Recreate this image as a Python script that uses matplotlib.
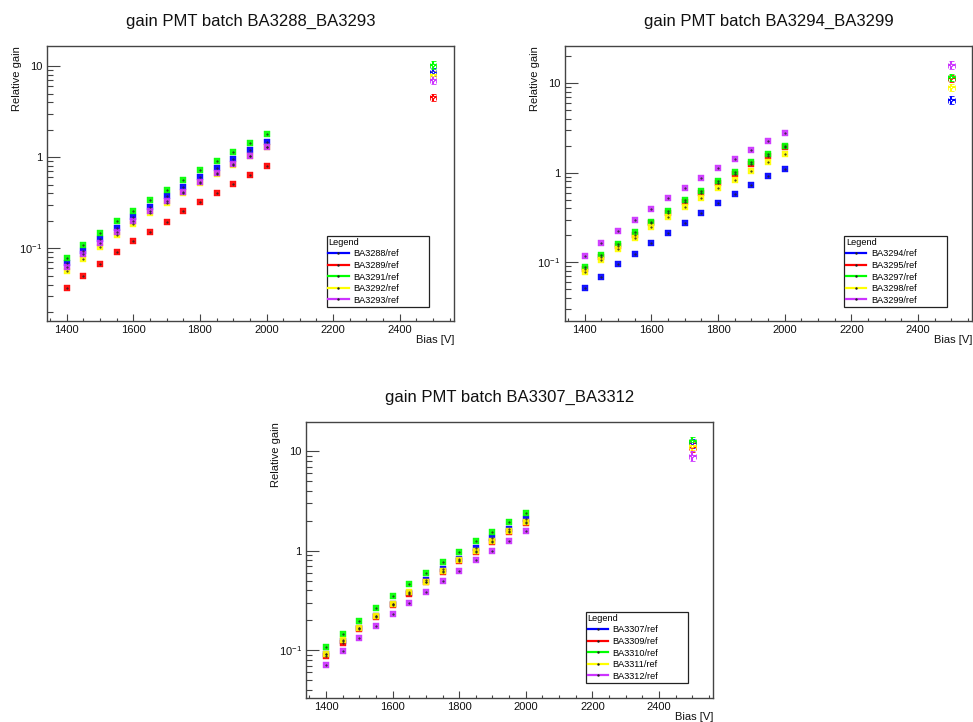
import matplotlib
matplotlib.use("Agg")
import matplotlib.pyplot as plt
from matplotlib.lines import Line2D
from matplotlib.ticker import LogLocator, FixedLocator, NullFormatter, FuncFormatter

plt.rcParams['font.family'] = ['Liberation Sans', 'DejaVu Sans']
plt.rcParams['mathtext.fontset'] = 'custom'
plt.rcParams['mathtext.rm'] = 'Liberation Sans'
plt.rcParams['mathtext.it'] = 'Liberation Sans:italic'
plt.rcParams['mathtext.bf'] = 'Liberation Sans:bold'
plt.rcParams['mathtext.sf'] = 'Liberation Sans'

# ---------------- data ----------------
bias = [1400, 1450, 1500, 1550, 1600, 1650, 1700, 1750, 1800, 1850, 1900, 1950, 2000, 2500]
bias_err = [0, 0, 0, 0, 0, 0, 0, 0, 0, 0, 0, 0, 0, 10]

colors = ['#0000ff', '#ff0000', '#00ff00', '#ffff00', '#cc33ff']

# Panel 1: batch BA3288_BA3293
titles1 = "gain PMT batch BA3288_BA3293"
labels1 = ["BA3288/ref", "BA3289/ref", "BA3291/ref", "BA3292/ref", "BA3293/ref"]
ba3288 = [0.0684, 0.0935, 0.1256, 0.167, 0.223, 0.2845, 0.373, 0.472, 0.603, 0.764, 0.959, 1.194, 1.486, 8.66]
ba3289 = [0.0367, 0.050, 0.0673, 0.0904, 0.1194, 0.1525, 0.1963, 0.255, 0.323, 0.409, 0.514, 0.634, 0.796, 4.56]
ba3291 = [0.079, 0.108, 0.1474, 0.198, 0.259, 0.337, 0.441, 0.564, 0.726, 0.911, 1.154, 1.425, 1.79, 10.43]
ba3292 = [0.0559, 0.0763, 0.1034, 0.139, 0.1867, 0.2425, 0.315, 0.402, 0.518, 0.656, 0.83, 1.03, 1.28, 8.1]
ba3293 = [0.063, 0.0867, 0.1135, 0.1525, 0.1996, 0.255, 0.3285, 0.420, 0.536, 0.673, 0.838, 1.043, 1.288, 7.14]
err1 = [0.9, 0.45, 1.1, 0.85, 0.75]

# Panel 2: batch BA3294_BA3299
titles2 = "gain PMT batch BA3294_BA3299"
labels2 = ["BA3294/ref", "BA3295/ref", "BA3297/ref", "BA3298/ref", "BA3299/ref"]
ba3294 = [0.0513, 0.0686, 0.095, 0.124, 0.163, 0.2124, 0.277, 0.358, 0.455, 0.578, 0.729, 0.91, 1.108, 6.46]
ba3295 = [0.0843, 0.1147, 0.1534, 0.2036, 0.2746, 0.358, 0.467, 0.593, 0.767, 0.966, 1.239, 1.548, 1.916, 11.3]
ba3297 = [0.0879, 0.1208, 0.1615, 0.216, 0.284, 0.377, 0.491, 0.6245, 0.80, 1.026, 1.304, 1.615, 2.0, 11.57]
ba3298 = [0.078, 0.1052, 0.141, 0.1884, 0.2478, 0.3205, 0.414, 0.526, 0.669, 0.835, 1.05, 1.304, 1.601, 8.95]
ba3299 = [0.1187, 0.163, 0.222, 0.2965, 0.3935, 0.5175, 0.675, 0.865, 1.117, 1.42, 1.775, 2.235, 2.77, 15.9]
err2 = [0.65, 1.1, 1.15, 0.9, 1.6]

# Panel 3: batch BA3307_BA3312
titles3 = "gain PMT batch BA3307_BA3312"
labels3 = ["BA3307/ref", "BA3309/ref", "BA3310/ref", "BA3311/ref", "BA3312/ref"]
ba3307 = [0.092, 0.124, 0.167, 0.220, 0.290, 0.380, 0.511, 0.659, 0.831, 1.056, 1.33, 1.65, 2.065, 12.1]
ba3309 = [0.088, 0.119, 0.162, 0.2155, 0.2824, 0.370, 0.480, 0.610, 0.790, 0.977, 1.23, 1.54, 1.90, 11.0]
ba3310 = [0.1076, 0.1466, 0.198, 0.2654, 0.350, 0.4624, 0.5965, 0.769, 0.977, 1.24, 1.552, 1.94, 2.41, 12.75]
ba3311 = [0.0908, 0.1256, 0.1683, 0.222, 0.291, 0.381, 0.488, 0.625, 0.80, 1.0, 1.26, 1.564, 1.927, 11.27]
ba3312 = [0.0715, 0.098, 0.1325, 0.175, 0.231, 0.300, 0.3873, 0.4994, 0.63, 0.80, 1.0, 1.25, 1.57, 9.0]
err3 = [1.2, 1.1, 1.3, 1.1, 0.95]

panels = [
    dict(title=titles1, labels=labels1, series=[ba3288, ba3289, ba3291, ba3292, ba3293], err=err1,
         rect_px=(46.7, 45.7, 454.0, 321.0), ylim=(0.0159, 16.8),
         leg_px=(326.5, 236.0, 429.0, 304.5)),
    dict(title=titles2, labels=labels2, series=[ba3294, ba3295, ba3297, ba3298, ba3299], err=err2,
         rect_px=(564.7, 45.7, 972.3, 321.0), ylim=(0.0222, 26.0),
         leg_px=(844.3, 236.0, 946.5, 304.5)),
    dict(title=titles3, labels=labels3, series=[ba3307, ba3309, ba3310, ba3311, ba3312], err=err3,
         rect_px=(306.0, 421.7, 713.3, 697.7), ylim=(0.0334, 19.8),
         leg_px=(585.7, 612.0, 687.5, 681.5)),
]

W, H = 973, 722
fig = plt.figure(figsize=(W / 100, H / 100), dpi=100)
frame_col = '#444444'


def ytick_fmt(v, pos):
    if abs(v - 10) < 1e-6:
        return '10'
    if abs(v - 1) < 1e-6:
        return '1'
    if abs(v - 0.1) < 1e-9:
        return r'$10^{-1}$'
    return ''


for p in panels:
    x0, y0, x1, y1 = p['rect_px']
    ax = fig.add_axes([x0 / W, 1 - y1 / H, (x1 - x0) / W, (y1 - y0) / H])
    axw, axh = x1 - x0, y1 - y0
    ax.set_yscale('log')
    ax.set_xlim(1340, 2563)
    ax.set_ylim(*p['ylim'])

    n = len(bias) - 1
    for i, (vals, col) in enumerate(zip(p['series'], colors)):
        ax.plot(bias[:n], vals[:n], linestyle='none', marker='s', markersize=3.8,
                markerfacecolor=col, markeredgecolor=col, markeredgewidth=0.3,
                alpha=0.92, zorder=3)
        ax.plot(bias[:n], vals[:n], linestyle='none', marker='.', markersize=1.0,
                color='#222222', zorder=4)
        ax.errorbar([bias[n]], [vals[n]], xerr=[bias_err[n]], yerr=[p['err'][i]],
                    fmt='s', markersize=2.0, markerfacecolor='white', markeredgecolor=col,
                    markeredgewidth=0.6, ecolor=col, elinewidth=1.5, capsize=1.8,
                    capthick=1.2, zorder=3)

    # ticks
    ax.yaxis.set_major_locator(FixedLocator([0.1, 1, 10]))
    ax.yaxis.set_minor_locator(LogLocator(base=10, subs=[2, 3, 4, 5, 6, 7, 8, 9], numticks=20))
    ax.yaxis.set_major_formatter(FuncFormatter(ytick_fmt))
    ax.yaxis.set_minor_formatter(NullFormatter())
    ax.xaxis.set_major_locator(FixedLocator([1400, 1600, 1800, 2000, 2200, 2400]))
    ax.xaxis.set_minor_locator(FixedLocator(list(range(1350, 2551, 50))))
    ax.tick_params(axis='both', which='both', direction='in', color=frame_col,
                   labelsize=8, labelcolor='#111111')
    ax.tick_params(axis='y', which='major', length=9.5, width=0.8, pad=3, left=True, right=False)
    ax.tick_params(axis='y', which='minor', length=4.5, width=0.8, left=True, right=False)
    ax.tick_params(axis='x', which='major', length=5.0, width=0.8, pad=3, bottom=True, top=False)
    ax.tick_params(axis='x', which='minor', length=2.5, width=0.8, bottom=True, top=False)
    for s in ax.spines.values():
        s.set_color(frame_col)
        s.set_linewidth(1.0)

    # titles
    ax.text(0.5, 1 + 24.5 / axh, p['title'], transform=ax.transAxes, ha='center',
            va='center', fontsize=12, color='#111111')
    ax.text(-30.0 / axw, 1.0, 'Relative gain', transform=ax.transAxes, rotation=90,
            ha='center', va='top', fontsize=8, color='#111111')
    ax.text(1.0, -19.0 / axh, 'Bias [V]', transform=ax.transAxes, ha='right',
            va='center', fontsize=8, color='#111111')

    # legend
    lx0, ly0, lx1, ly1 = p['leg_px']
    handles = [Line2D([0], [0], color=c, lw=1.6, marker='.', markersize=1.5,
                      markerfacecolor='#222222', markeredgecolor='#222222') for c in colors]
    bb = ((lx0 - x0) / axw, (y1 - ly1) / axh, (lx1 - lx0) / axw, (ly1 - ly0) / axh)
    leg = ax.legend(handles, p['labels'], title='Legend', loc='upper left',
                    bbox_to_anchor=bb, bbox_transform=ax.transAxes, mode='expand',
                    borderaxespad=0, fancybox=False, framealpha=1, edgecolor='#222222',
                    fontsize=6.6, title_fontsize=6.6, handlelength=2.2, handletextpad=0.5,
                    labelspacing=0.28, borderpad=0.2, alignment='left')
    leg.get_frame().set_linewidth(0.9)

fig.savefig('out.png', dpi=100)
